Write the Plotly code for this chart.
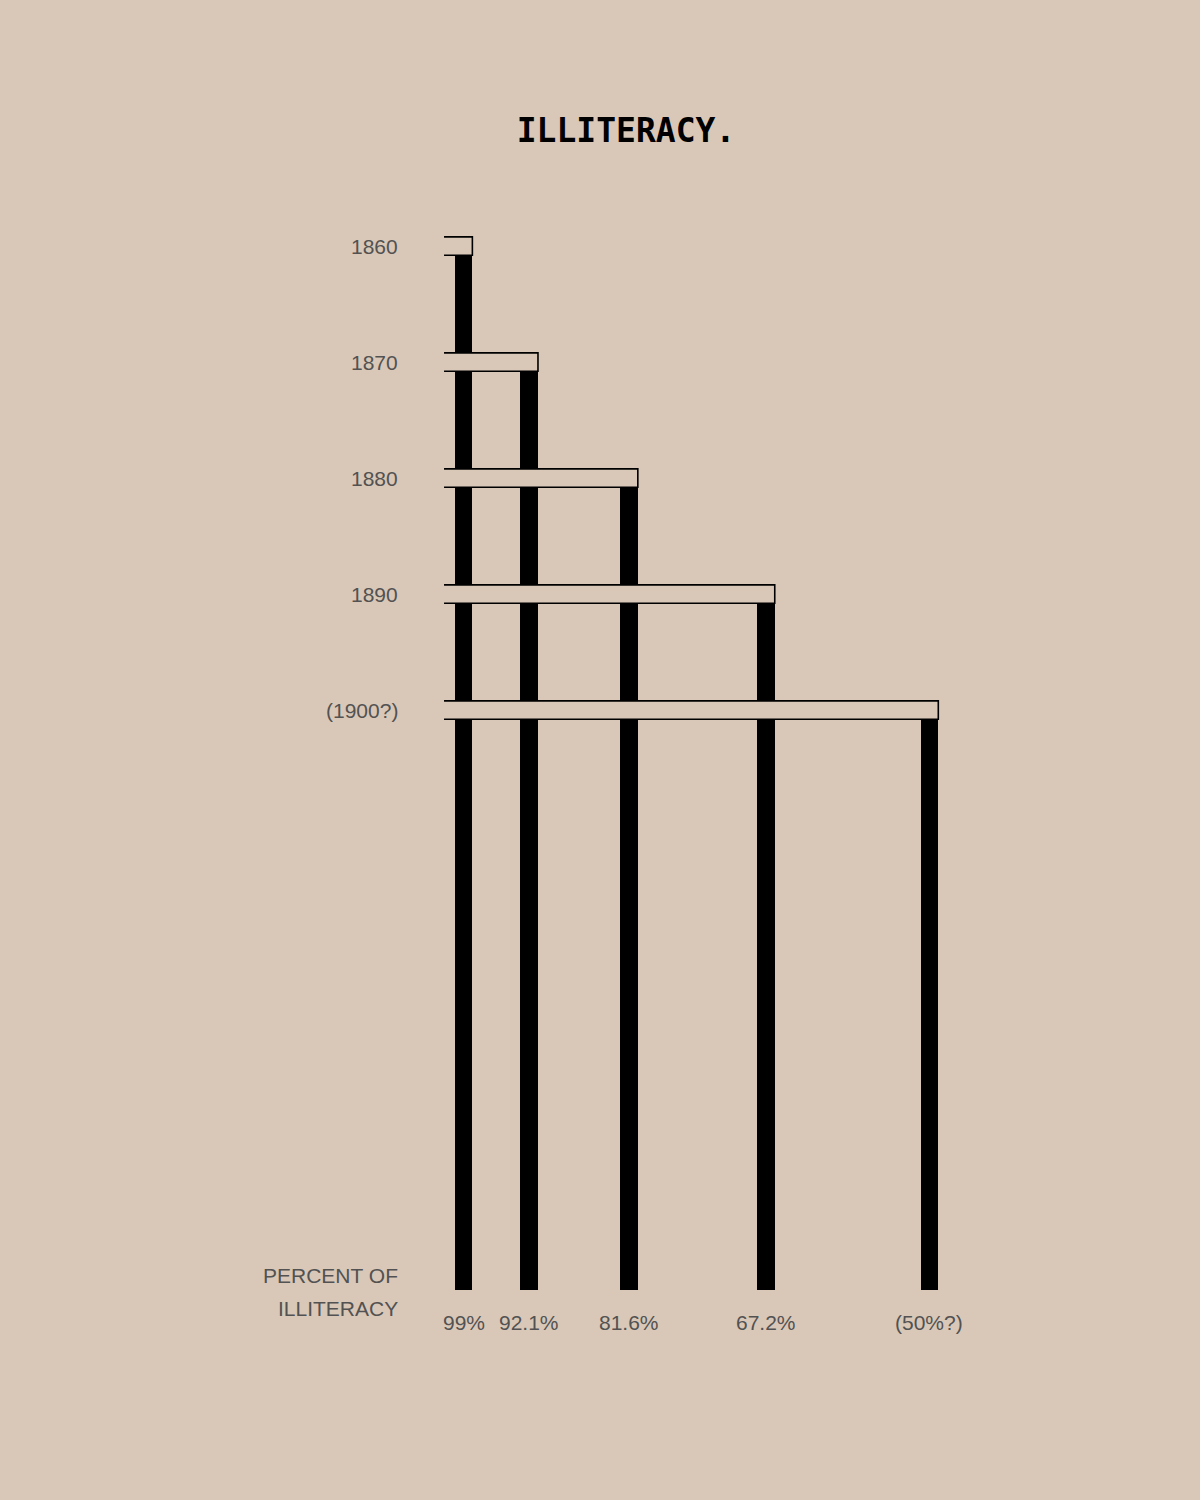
import plotly.graph_objects as go

# ---- data ----
years = [1860, 1870, 1880, 1890, 1900]
year_labels = ["1860", "1870", "1880", "1890", "(1900?)"]
illiteracy = [99, 92.1, 81.6, 67.2, 50]
pct_labels = ["99%", "92.1%", "81.6%", "67.2%", "(50%?)"]

# ---- layout constants ----
BG = "rgb(217,200,184)"
TXT = "#525252"
FONT = "Liberation Sans, Arial, sans-serif"
BAR_BOTTOM = 1950.0      # year-scale position where bars end
BAR_W = 1.86             # bar width in percent units
BAND_HALF = 0.79         # half height of year bands (year units)
BAND_LEFT = 101.05       # left edge of bands (percent units)
X_RANGE = [102, 45]      # reversed percent axis
Y_RANGE = [1954.74, 1856.03]

fig = go.Figure()

# vertical bars: each starts at its year and drops to the base line
fig.add_trace(go.Bar(
    x=illiteracy,
    y=[BAR_BOTTOM - y for y in years],
    base=years,
    width=BAR_W,
    marker=dict(color="black", line=dict(width=0)),
    hoverinfo="skip",
    showlegend=False,
))

# horizontal year bands drawn on top (open on the left)
shapes = []
for yr, p in zip(years, illiteracy):
    right = p - BAR_W / 2
    top = yr - BAND_HALF
    bot = yr + BAND_HALF
    path = f"M {BAND_LEFT},{top} L {right},{top} L {right},{bot} L {BAND_LEFT},{bot}"
    shapes.append(dict(
        type="path", path=path, xref="x", yref="y",
        fillcolor=BG, line=dict(color="black", width=1.6), layer="above",
    ))

annotations = []
for yr, lab in zip(years, year_labels):
    annotations.append(dict(
        x=0, xref="paper", y=yr, yref="y", text=lab, showarrow=False,
        xanchor="right", yanchor="middle", xshift=-35,
        font=dict(family=FONT, size=21, color=TXT),
    ))
for p, lab in zip(illiteracy, pct_labels):
    annotations.append(dict(
        x=p, xref="x", y=1952.76, yref="y", text=lab, showarrow=False,
        xanchor="center", yanchor="middle",
        font=dict(family=FONT, size=21, color=TXT),
    ))
for yv, lab in [(1948.79, "PERCENT OF"), (1951.55, "ILLITERACY")]:
    annotations.append(dict(
        x=0, xref="paper", y=yv, yref="y", text=lab, showarrow=False,
        xanchor="right", yanchor="middle", xshift=-35,
        font=dict(family=FONT, size=21, color=TXT),
    ))

fig.update_layout(
    width=1200, height=1500,
    paper_bgcolor=BG, plot_bgcolor=BG,
    margin=dict(l=435, r=223, t=200, b=155),
    title=dict(
        text="<b>ILLITERACY.</b>", x=626 / 1200, xanchor="center",
        y=1 - 130 / 1500, yanchor="middle",
        font=dict(family="DejaVu Sans Mono, monospace", size=33, color="black"),
    ),
    xaxis=dict(range=X_RANGE, visible=False, fixedrange=True),
    yaxis=dict(range=Y_RANGE, visible=False, fixedrange=True),
    shapes=shapes,
    annotations=annotations,
    bargap=0,
)

fig.write_html("out.html")
